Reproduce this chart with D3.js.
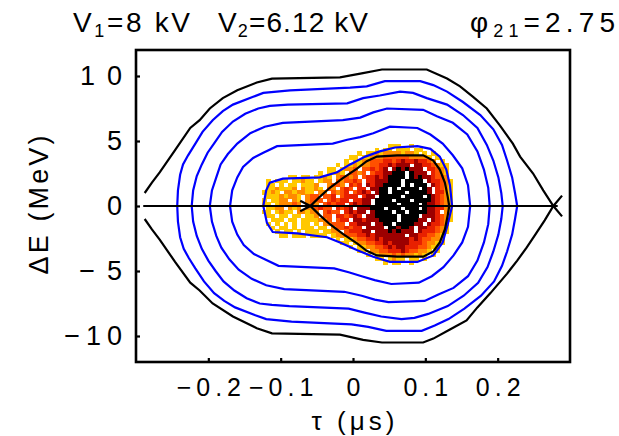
<!DOCTYPE html>
<html>
<head>
<meta charset="utf-8">
<script src="https://cdn.jsdelivr.net/npm/d3@7"></script>
<style>
  body { margin: 0; background: #fff; }
  svg text { font-family: "Liberation Sans", Arial, Helvetica, sans-serif; fill: #000; }
</style>
</head>
<body>
<div id="chart"></div>
<script>
// Longitudinal phase space, double RF system: bunch density + Hamiltonian contours

// ---- axes ----
const xDomain = [-0.3, 0.3];          // tau (us)
const yDomain = [-12, 12];            // Delta E (MeV)
const xTicks = [-0.2, -0.1, 0, 0.1, 0.2];
const xTickLabels = ["\u22120.2", "\u22120.1", "0", "0.1", "0.2"];
const yTicks = [-10, -5, 0, 5, 10];
const yTickLabels = ["\u221210", "\u22125", "0", "5", "10"];
const titleItems = [["V", "1", "=8 kV"], ["V", "2", "=6.12 kV"], ["\u03c6", "21", "=2.75"]];

// ---- outer separatrix (black), [tau, dE] ----
const outerSepUpper = [[-0.288, 1.0], [-0.278, 1.8], [-0.267, 2.6], [-0.246, 4.3], [-0.225, 6.0], [-0.212, 6.6],
  [-0.198, 7.5], [-0.180, 8.3], [-0.160, 8.9], [-0.133, 9.5], [-0.112, 9.8], [-0.018, 9.9], [0.012, 10.2],
  [0.040, 10.5], [0.102, 10.5], [0.130, 9.8], [0.148, 9.2], [0.166, 8.4], [0.185, 7.5], [0.203, 6.2],
  [0.221, 4.8], [0.231, 3.8], [0.249, 2.5], [0.263, 1.2], [0.277, 0], [0.289, -0.8]];
const outerSepLower = [[-0.288, -1.0], [-0.278, -1.8], [-0.267, -2.6], [-0.246, -4.3], [-0.225, -5.9], [-0.212, -6.5],
  [-0.194, -7.5], [-0.166, -8.5], [-0.133, -9.4], [-0.112, -9.8], [-0.018, -9.9], [0.014, -10.3], [0.040, -10.5],
  [0.097, -10.5], [0.111, -10.2], [0.134, -9.5], [0.157, -8.8], [0.172, -7.8], [0.190, -6.7], [0.213, -5.2],
  [0.227, -4.2], [0.240, -3.2], [0.252, -2.2], [0.265, -1.1], [0.277, 0], [0.289, 0.8]];
const sepAxis = [[-0.29, 0], [0.283, 0]];

// ---- inner separatrix (black loop round the bunch) ----
const innerSepUpper = [[-0.073, -0.4], [-0.059, 0], [-0.046, 0.7], [-0.032, 1.4], [-0.014, 2.15], [0.006, 2.9],
  [0.019, 3.45], [0.033, 3.8], [0.061, 3.9], [0.097, 3.9], [0.111, 3.5], [0.120, 2.8], [0.127, 1.8],
  [0.131, 0.7], [0.133, 0]];
const innerSepLower = [[-0.073, 0.4], [-0.059, 0], [-0.046, -0.7], [-0.032, -1.4], [-0.014, -2.15], [0.006, -2.9],
  [0.019, -3.45], [0.033, -3.8], [0.061, -3.9], [0.097, -3.9], [0.111, -3.5], [0.120, -2.8], [0.127, -1.8],
  [0.131, -0.7], [0.133, 0]];

// ---- blue contours, outermost first ----
const blueUpper = [
  [[-0.243, 0], [-0.242, 1.2], [-0.239, 2.4], [-0.235, 3.2], [-0.228, 3.9], [-0.219, 4.7], [-0.208, 5.7],
   [-0.194, 6.6], [-0.180, 7.3], [-0.166, 7.8], [-0.138, 8.4], [-0.124, 8.7], [-0.087, 8.9], [-0.004, 9.1],
   [0.019, 9.2], [0.044, 9.6], [0.093, 9.6], [0.111, 9.3], [0.130, 8.8], [0.152, 8.0], [0.176, 7.0],
   [0.194, 5.9], [0.206, 4.7], [0.213, 3.5], [0.220, 2.2], [0.224, 1.0], [0.227, 0]],
  [[-0.223, 0], [-0.221, 1.2], [-0.216, 2.3], [-0.209, 3.2], [-0.201, 4.1], [-0.191, 4.9], [-0.181, 5.7],
   [-0.166, 6.5], [-0.149, 7.1], [-0.131, 7.5], [-0.115, 7.7], [-0.090, 7.8], [-0.008, 7.9], [0.014, 8.3],
   [0.037, 8.5], [0.065, 8.8], [0.083, 8.7], [0.102, 8.3], [0.130, 7.8], [0.152, 7.0], [0.172, 6.0],
   [0.185, 4.7], [0.194, 3.5], [0.201, 2.2], [0.205, 1.0], [0.207, 0]],
  [[-0.198, 0], [-0.195, 1.2], [-0.189, 2.2], [-0.183, 3.2], [-0.173, 4.0], [-0.160, 4.8], [-0.142, 5.6],
   [-0.122, 6.1], [-0.097, 6.4], [-0.014, 6.6], [0.010, 6.8], [0.028, 7.2], [0.047, 7.5], [0.097, 7.4],
   [0.116, 6.9], [0.138, 6.4], [0.158, 5.5], [0.172, 4.2], [0.181, 2.8], [0.187, 1.4], [0.189, 0]],
  [[-0.170, 0], [-0.167, 1.2], [-0.160, 2.2], [-0.152, 3.0], [-0.138, 3.7], [-0.124, 4.1], [-0.105, 4.6],
   [-0.028, 4.8], [-0.008, 5.1], [0.010, 5.3], [0.028, 5.6], [0.051, 6.1], [0.089, 6.0], [0.107, 5.5],
   [0.124, 4.8], [0.138, 3.9], [0.151, 2.9], [0.159, 1.6], [0.162, 0]],
  [[-0.124, 0], [-0.120, 1.2], [-0.115, 1.8], [-0.097, 2.1], [-0.046, 2.2], [-0.022, 2.6], [-0.004, 3.2],
   [0.017, 3.8], [0.037, 4.2], [0.058, 4.5], [0.089, 4.6], [0.107, 4.4], [0.120, 3.8], [0.129, 2.8],
   [0.134, 1.6], [0.137, 0]]
];
const blueLower = [
  [[-0.243, 0], [-0.242, -1.2], [-0.239, -2.4], [-0.234, -3.3], [-0.227, -4.0], [-0.218, -4.8], [-0.206, -5.8],
   [-0.192, -6.7], [-0.178, -7.3], [-0.163, -7.8], [-0.135, -8.4], [-0.120, -8.7], [-0.085, -8.9], [-0.002, -9.1],
   [0.021, -9.3], [0.046, -9.6], [0.095, -9.6], [0.113, -9.2], [0.132, -8.7], [0.154, -7.9], [0.177, -6.9],
   [0.195, -5.8], [0.206, -4.6], [0.213, -3.5], [0.220, -2.2], [0.224, -1.0], [0.227, 0]],
  [[-0.223, 0], [-0.221, -1.2], [-0.216, -2.3], [-0.209, -3.3], [-0.200, -4.2], [-0.190, -5.0], [-0.179, -5.8],
   [-0.164, -6.5], [-0.147, -7.1], [-0.129, -7.5], [-0.112, -7.6], [-0.088, -7.7], [-0.006, -7.9], [0.016, -8.2],
   [0.039, -8.5], [0.067, -8.7], [0.085, -8.6], [0.104, -8.3], [0.131, -7.7], [0.153, -6.9], [0.173, -5.9],
   [0.186, -4.7], [0.194, -3.5], [0.201, -2.2], [0.205, -1.0], [0.207, 0]],
  [[-0.198, 0], [-0.195, -1.2], [-0.189, -2.3], [-0.182, -3.2], [-0.171, -4.1], [-0.158, -4.9], [-0.140, -5.6],
   [-0.120, -6.1], [-0.095, -6.4], [-0.012, -6.6], [0.012, -6.9], [0.030, -7.2], [0.049, -7.4], [0.099, -7.3],
   [0.118, -6.8], [0.139, -6.3], [0.159, -5.4], [0.172, -4.2], [0.181, -2.8], [0.187, -1.4], [0.189, 0]],
  [[-0.170, 0], [-0.167, -1.2], [-0.160, -2.2], [-0.151, -3.0], [-0.137, -3.7], [-0.122, -4.1], [-0.103, -4.6],
   [-0.026, -4.8], [-0.006, -5.1], [0.012, -5.4], [0.030, -5.7], [0.053, -6.0], [0.091, -5.9], [0.109, -5.4],
   [0.125, -4.7], [0.139, -3.8], [0.151, -2.8], [0.159, -1.6], [0.162, 0]],
  [[-0.124, 0], [-0.119, -1.3], [-0.111, -2.0], [-0.077, -2.1], [-0.036, -2.4], [-0.018, -2.8], [0.006, -3.4],
   [0.028, -3.9], [0.051, -4.3], [0.089, -4.3], [0.111, -3.8], [0.124, -2.8], [0.131, -1.4], [0.137, 0]]
];

// ---- particle density histogram: bins and levels (0 = empty .. 6 = densest) ----
const densityTau0 = -0.126;   // left edge of first column
const densityTauStep = 0.006;
const densityE0 = 4.8;        // top edge of first row
const densityEStep = 0.3;
const densityColors = ["#ffc800", "#ff8a00", "#ff5000", "#e82000", "#9c0000", "#000000"];
// each row: [first column, levels from that column on]
const densityRows = [
  [29, "111..1"],
  [26, "1.11.111.11"],
  [22, "1.112122221221.1.1"],
  [20, "11.1122233333322221.1"],
  [19, "1.1122333443454454432.1"],
  [17, "1.112122334454555.55443211"],
  [15, "11.1223.334345.5656555.44321"],
  [13, "1.1121.3323.34455666.6555.4321"],
  [6, "11.11.1121.23323.3445456666.656554332"],
  [1, "1.111.11211.122.323343.44555666.6666.544321"],
  [0, ".11.1.11.1112..2332.434.54556666.6.666.54321"],
  [0, ".1121112.21121.32.343.44.5566.6.6666.65.4321"],
  [0, "1121.2212211.22.3234.3454.566.666.66665.4421"],
  [0, ".11121221.233.334.3444.455.66666.6666.654321"],
  [0, "1.1122.21.2333.34344.4455.6666.666.666654321"],
  [0, "11.122232.232.34344.45455.66666.6666.6554321"],
  [0, ".1122.212.223433.4345.555666.666.666.6554421"],
  [0, "11.1211.22122.3433.45455.56666.66.6666554.21"],
  [0, ".11.11.11.112.33.443454.5566666.6666.5554321"],
  [0, "..111.11.1111223.344.5545556666.666655.54321"],
  [0, ".1.1.1.1.11.1.22333.44555.5566.666655.54432."],
  [0, "..1.11.1.111.11.2334344.5555.665665.5544321."],
  [0, "...1.11.1.111.1122.344455.555656555.5444321."],
  [0, "....11.111.1111.12233344545555555.55443321.."],
  [17, "1.11233445455555545433221"],
  [18, "11.122334454555544432211"],
  [20, "1.1122334545544433211"],
  [22, "11.22334445433221.1"],
  [24, "1.122232322121.1"],
  [26, "11.1211.11.1"],
  [28, "1.11..1"]
];

class PhaseSpacePlot {
    constructor() {
        this.width = 619;
        this.height = 436;
        this.frame = { left: 136, right: 570, top: 50, bottom: 362 };
        this.init();
    }

    init() {
        this.svg = d3.select("#chart").append("svg")
            .attr("width", this.width)
            .attr("height", this.height)
            .style("display", "block");

        this.x = d3.scaleLinear().domain(xDomain).range([this.frame.left, this.frame.right]);
        this.y = d3.scaleLinear().domain(yDomain).range([this.frame.bottom, this.frame.top]);

        this.svg.append("clipPath").attr("id", "plot-clip")
            .append("rect")
            .attr("x", this.frame.left).attr("y", this.frame.top)
            .attr("width", this.frame.right - this.frame.left)
            .attr("height", this.frame.bottom - this.frame.top);

        this.plot = this.svg.append("g").attr("clip-path", "url(#plot-clip)");

        this.drawDensity();
        this.drawContours();
        this.drawAxes();
        this.drawLabels();
    }

    drawDensity() {
        const cells = [];
        densityRows.forEach(([start, levels], r) => {
            levels.split("").forEach((ch, i) => {
                if (ch === ".") return;
                cells.push({ tau: densityTau0 + (start + i) * densityTauStep, e: densityE0 - r * densityEStep, level: +ch });
            });
        });
        const cw = this.x(densityTauStep) - this.x(0);
        const ch = this.y(0) - this.y(densityEStep);
        this.plot.append("g")
            .attr("shape-rendering", "crispEdges")
            .selectAll("rect")
            .data(cells)
            .enter().append("rect")
            .attr("x", d => this.x(d.tau))
            .attr("y", d => this.y(d.e))
            .attr("width", cw + 0.4)
            .attr("height", ch + 0.4)
            .attr("fill", d => densityColors[d.level - 1]);
    }

    drawContours() {
        const line = d3.line().x(d => this.x(d[0])).y(d => this.y(d[1]));
        const g = this.plot.append("g").attr("fill", "none").attr("stroke-width", 2.2);

        g.selectAll(".blue")
            .data(blueUpper.concat(blueLower))
            .enter().append("path")
            .attr("class", "blue")
            .attr("stroke", "#0000ff")
            .attr("d", line);

        g.selectAll(".sep")
            .data([outerSepUpper, outerSepLower, sepAxis, innerSepUpper, innerSepLower])
            .enter().append("path")
            .attr("class", "sep")
            .attr("stroke", "#000")
            .attr("d", line);
    }

    drawAxes() {
        const f = this.frame;
        this.svg.append("rect")
            .attr("x", f.left).attr("y", f.top)
            .attr("width", f.right - f.left).attr("height", f.bottom - f.top)
            .attr("fill", "none").attr("stroke", "#000").attr("stroke-width", 2.6);

        const yAxis = this.svg.append("g")
            .attr("transform", `translate(${f.left},0)`)
            .call(d3.axisLeft(this.y).tickValues(yTicks).tickSizeInner(-4).tickSizeOuter(0).tickPadding(14)
                .tickFormat((d, i) => yTickLabels[i]));
        yAxis.select(".domain").remove();
        yAxis.selectAll("line").attr("stroke-width", 2.2);
        yAxis.selectAll("text").attr("font-size", 27).attr("font-family", null).attr("fill", "#000");

        const xAxis = this.svg.append("g")
            .attr("transform", `translate(0,${f.bottom})`)
            .call(d3.axisBottom(this.x).tickValues(xTicks).tickSizeInner(-4).tickSizeOuter(0).tickPadding(16)
                .tickFormat((d, i) => xTickLabels[i]));
        xAxis.select(".domain").remove();
        xAxis.selectAll("line").attr("stroke-width", 2.2);
        xAxis.selectAll("text").attr("font-size", 25).attr("font-family", null).attr("fill", "#000");

        // spread multi-character labels a little, like the original raster font
        yAxis.selectAll("text").each(function () {
            if (this.textContent.length > 1) {
                d3.select(this).attr("textLength", this.getComputedTextLength() + 12).attr("lengthAdjust", "spacing");
            }
        });
        xAxis.selectAll("text").each(function () {
            const n = this.textContent.length;
            if (n > 1) {
                d3.select(this).attr("textLength", this.getComputedTextLength() + 5 * (n - 1)).attr("lengthAdjust", "spacing");
            }
        });
    }

    drawLabels() {
        const titleX = [73, 218, 470];
        const titleLen = [117, 150, 145];
        titleItems.forEach(([main, sub, rest], i) => {
            const t = this.svg.append("text")
                .attr("x", titleX[i]).attr("y", 32)
                .attr("font-size", 28)
                .attr("textLength", titleLen[i]).attr("lengthAdjust", "spacing");
            t.append("tspan").text(main);
            t.append("tspan").attr("font-size", 18).attr("dy", 5).text(sub);
            t.append("tspan").attr("dy", -5).text(rest);
        });

        this.svg.append("text")
            .attr("transform", "translate(48,205) rotate(-90)")
            .attr("text-anchor", "middle")
            .attr("font-size", 27)
            .attr("textLength", 139).attr("lengthAdjust", "spacing")
            .text("\u0394E (MeV)");

        this.svg.append("text")
            .attr("x", 353).attr("y", 430)
            .attr("text-anchor", "middle")
            .attr("font-size", 26)
            .attr("textLength", 83).attr("lengthAdjust", "spacing")
            .text("\u03c4 (\u03bcs)");
    }
}

document.addEventListener("DOMContentLoaded", function () {
    new PhaseSpacePlot();
});
</script>
</body>
</html>
